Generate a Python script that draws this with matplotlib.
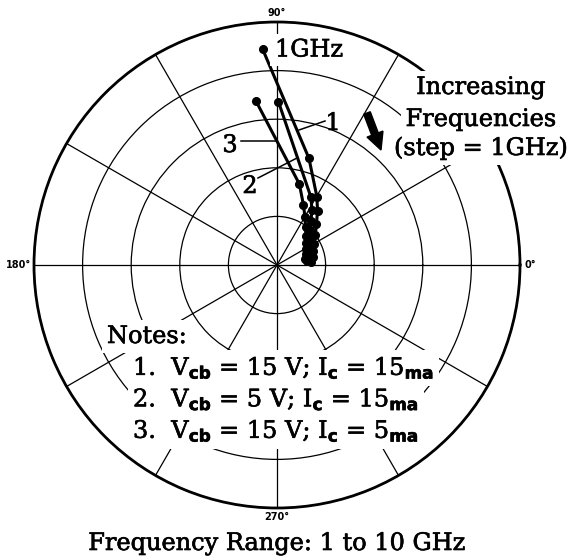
import numpy as np
import matplotlib
matplotlib.use("Agg")
import matplotlib.pyplot as plt
import matplotlib.patheffects as pe
from matplotlib.lines import Line2D
from matplotlib.patches import FancyArrow
from matplotlib.transforms import IdentityTransform

plt.rcParams["font.family"] = ["DejaVu Serif"]
plt.rcParams["mathtext.fontset"] = "custom"
plt.rcParams["mathtext.rm"] = "DejaVu Serif"
plt.rcParams["mathtext.it"] = "DejaVu Serif:italic"
plt.rcParams["mathtext.bf"] = "DejaVu Sans:bold"

# Frequency points (GHz) and polar readings (magnitude in grid units, angle in degrees)
freq_ghz = [1, 2, 3, 4, 5, 6, 7, 8, 9, 10]

mag_1 = [4.45, 2.29, 1.63, 1.39, 1.17, 1.00, 0.88, 0.80, 0.75, 0.71]
ang_1 = [93.8, 73.3, 59.8, 53.1, 46.1, 37.9, 29.2, 21.0, 12.7, 5.0]

mag_2 = [3.36, 1.56, 1.34, 1.14, 0.99, 0.87, 0.78, 0.71, 0.66, 0.63]
ang_2 = [89.5, 63.4, 57.5, 52.3, 46.7, 39.7, 32.0, 24.0, 16.2, 7.5]

mag_3 = [3.40, 1.73, 1.35, 1.14, 0.98, 0.84, 0.75, 0.68, 0.63, 0.59]
ang_3 = [97.3, 74.6, 66.2, 59.7, 53.1, 45.0, 37.2, 28.9, 21.1, 12.1]

r_grid = [1, 2, 3, 4]
r_max = 5
theta_grid_deg = list(range(0, 360, 30))
angle_labels = {0: "0°", 90: "90°", 180: "180°", 270: "270°"}

notes_title = "Notes:"
notes = [
    r"1.  $\mathrm{V}_{\mathbf{cb}}$ = 15 V; $\mathrm{I}_{\mathbf{c}}$ = $\mathrm{15}_{\mathbf{ma}}$",
    r"2.  $\mathrm{V}_{\mathbf{cb}}$ = 5 V; $\mathrm{I}_{\mathbf{c}}$ = $\mathrm{15}_{\mathbf{ma}}$",
    r"3.  $\mathrm{V}_{\mathbf{cb}}$ = 15 V; $\mathrm{I}_{\mathbf{c}}$ = $\mathrm{5}_{\mathbf{ma}}$",
]
freq_note = ["Increasing", "Frequencies", "(step = 1GHz)"]
bottom_title = "Frequency Range: 1 to 10 GHz"

W, H = 569, 558
fig = plt.figure(figsize=(W / 100, H / 100), dpi=100)
fig.patch.set_facecolor("white")


def fx(x):
    return x / W


def fy(y):
    return 1 - y / H


# polar axes: centre (277, 265) px, radius 243 px
cx, cy, rad = 277, 265, 243
ax = fig.add_axes([fx(cx - rad), fy(cy + rad), 2 * rad / W, 2 * rad / H],
                  projection="polar")
ax.set_ylim(0, r_max)
ax.set_yticks(r_grid)
ax.set_yticklabels([])
ax.set_xticks(np.deg2rad(theta_grid_deg))
ax.set_xticklabels([])
ax.grid(True, color="black", linewidth=0.9)
ax.spines["polar"].set_linewidth(2.0)
ax.spines["polar"].set_color("black")
ax.tick_params(length=0)

for mag, ang in [(mag_1, ang_1), (mag_2, ang_2), (mag_3, ang_3)]:
    ax.plot(np.deg2rad(ang), mag, "-o", color="black", linewidth=2.2,
            markersize=5.5, zorder=5, clip_on=False)

# angle labels
lab_kw = dict(fontsize=7, fontweight="bold", family="DejaVu Sans")
ax.text(np.deg2rad(0), 5.1, angle_labels[0], ha="left", va="center", **lab_kw)
ax.text(np.deg2rad(90), 5.08, angle_labels[90], ha="center", va="bottom", **lab_kw)
ax.text(np.deg2rad(180), 5.06, angle_labels[180], ha="right", va="center", **lab_kw)
ax.text(np.deg2rad(270), 5.08, angle_labels[270], ha="center", va="top", **lab_kw)

box = dict(boxstyle="square,pad=0.2", fc="white", ec="none")
fs = 17.3
heavy = [pe.withStroke(linewidth=0.45, foreground="black")]
tkw = dict(fontsize=fs, va="baseline", path_effects=heavy)

# curve labels and leader lines
fig.text(fx(275), fy(56.5), "1GHz", ha="left", bbox=box, **tkw)
fig.text(fx(333), fy(130), "1", ha="center", zorder=4, **tkw)
fig.text(fx(250), fy(193), "2", ha="center", zorder=4, **tkw)
fig.text(fx(230), fy(152), "3", ha="center", zorder=4, **tkw)
for (x1, y1), (x2, y2) in [((325, 121), (299, 130)),
                           ((258, 178), (297, 158)),
                           ((241, 141), (276, 141))]:
    fig.add_artist(Line2D([fx(x1), fx(x2)], [fy(y1), fy(y2)],
                          transform=fig.transFigure, color="black", linewidth=1.1))

# increasing-frequency note with arrow
for txt, yb in zip(freq_note, [94, 126, 155]):
    fig.text(fx(481), fy(yb), txt, ha="center", bbox=box, **tkw)
fig.add_artist(FancyArrow(367, H - 113, 14, -37, width=7, head_width=17,
                          head_length=17, length_includes_head=True,
                          color="black", transform=IdentityTransform(), zorder=4))

# notes block
fig.text(fx(107), fy(343), notes_title, ha="left", bbox=box, **tkw)
for txt, yb in zip(notes, [375, 406.5, 438]):
    fig.text(fx(133), fy(yb), txt, ha="left", bbox=box, **tkw)

fig.text(fx(277), fy(550), bottom_title, ha="center", **tkw)

fig.savefig("out.png", dpi=100, facecolor="white")
